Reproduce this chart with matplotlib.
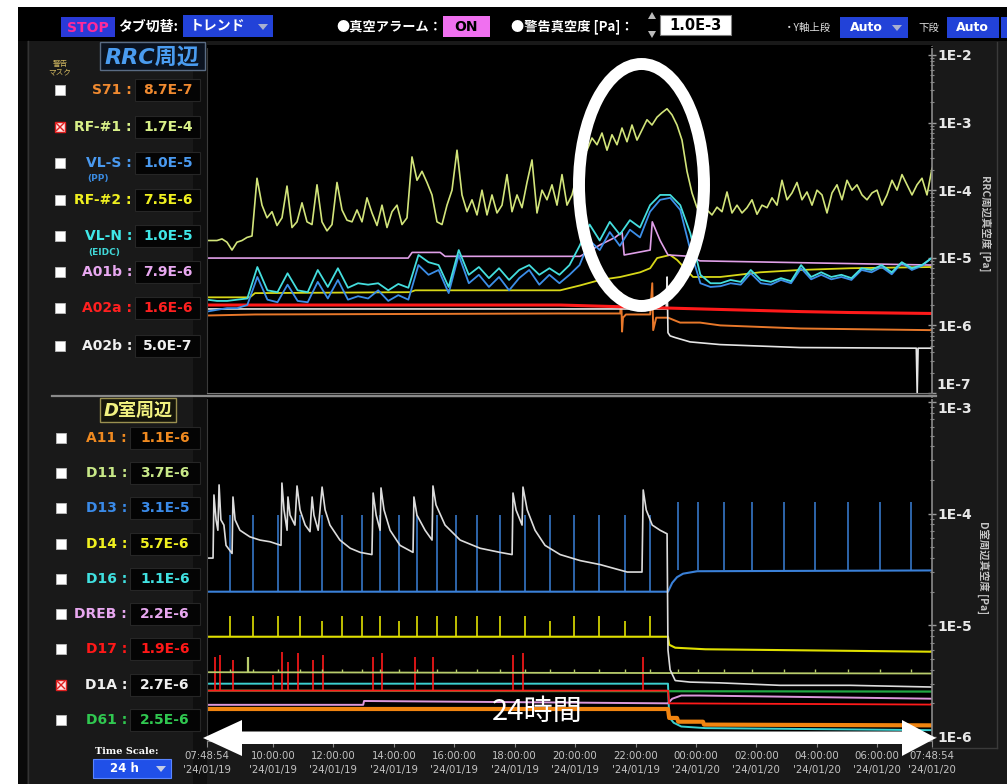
import matplotlib
matplotlib.use("Agg")
import matplotlib.pyplot as plt
import numpy as np
from matplotlib.patches import Rectangle, Ellipse, Polygon
from matplotlib.ticker import LogLocator, NullFormatter

plt.rcParams["font.family"] = ["DejaVu Sans", "Noto Sans CJK JP"]
JP = ["Noto Sans CJK JP", "DejaVu Sans"]

# ── Time axis (hours since 07:48:54 '24/01/19) ───────────────
tick_hours = [0, 2.185, 4.185, 6.185, 8.185, 10.185, 12.185,
              14.185, 16.185, 18.185, 20.185, 22.185, 24]
tick_labels = ["07:48:54\n'24/01/19", "10:00:00\n'24/01/19", "12:00:00\n'24/01/19",
               "14:00:00\n'24/01/19", "16:00:00\n'24/01/19", "18:00:00\n'24/01/19",
               "20:00:00\n'24/01/19", "22:00:00\n'24/01/19", "00:00:00\n'24/01/20",
               "02:00:00\n'24/01/20", "04:00:00\n'24/01/20", "06:00:00\n'24/01/20",
               "07:48:54\n'24/01/20"]
rrc_ticks = [1e-7, 1e-6, 1e-5, 1e-4, 1e-3, 1e-2]
rrc_tick_labels = ["1E-7", "1E-6", "1E-5", "1E-4", "1E-3", "1E-2"]
d_ticks = [1e-6, 1e-5, 1e-4, 1e-3]
d_tick_labels = ["1E-6", "1E-5", "1E-4", "1E-3"]

# ── Read-outs in the left panel ──────────────────────────────
rrc_names = ["S71", "RF-#1", "VL-S", "RF-#2", "VL-N", "A01b", "A02a", "A02b"]
rrc_values = ["8.7E-7", "1.7E-4", "1.0E-5", "7.5E-6", "1.0E-5", "7.9E-6", "1.6E-6", "5.0E-7"]
rrc_masked = [False, True, False, False, False, False, False, False]
d_names = ["A11", "D11", "D13", "D14", "D16", "DREB", "D17", "D1A", "D61"]
d_values = ["1.1E-6", "3.7E-6", "3.1E-5", "5.7E-6", "1.1E-6", "2.2E-6", "1.9E-6", "2.7E-6", "2.5E-6"]
d_masked = [False, False, False, False, False, False, False, True, False]

# ── RRC trends [Pa] ──────────────────────────────────────────
# RF-#1 logged on a regular grid (146 samples over 24 h)
rf1_v = [1.8e-5, 1.8e-5, 1.8e-5, 1.9e-5, 1.7e-5, 1.3e-5, 1.7e-5, 1.8e-5, 2.0e-5, 2.1e-5,
         1.5e-4, 6.0e-5, 3.9e-5, 4.8e-5, 3.0e-5, 3.9e-5, 1.15e-4, 2.8e-5, 3.4e-5, 6.5e-5,
         3.4e-5, 3.1e-5, 1.2e-4, 3.4e-5, 2.5e-5, 3.1e-5, 1.3e-4, 5.1e-5, 3.6e-5, 3.4e-5,
         5.1e-5, 3.4e-5, 7.7e-5, 4.6e-5, 3.0e-5, 6.0e-5, 2.8e-5, 4.8e-5, 6.0e-5, 3.1e-5,
         3.9e-5, 3.1e-4, 1.4e-4, 1.9e-4, 1.3e-4, 8.5e-5, 3.4e-5, 3.1e-5, 6.0e-5, 1.0e-4,
         3.9e-4, 8.5e-5, 4.8e-5, 7.2e-5, 4.3e-5, 1.0e-4, 4.3e-5, 8.5e-5, 4.6e-5, 6.0e-5,
         1.7e-4, 4.8e-5, 8.5e-5, 5.5e-5, 1.3e-4, 2.8e-4, 4.6e-5, 1.0e-4, 7.2e-5, 1.2e-4,
         6.0e-5, 1.7e-4, 6.0e-5, 8.5e-5, 1.7e-4, 4.2e-4, 3.9e-4, 5.9e-4, 4.7e-4, 7.0e-4,
         3.9e-4, 6.6e-4, 4.7e-4, 8.3e-4, 5.2e-4, 9.2e-4, 5.5e-4, 7.8e-4, 1.1e-3, 9.2e-4,
         1.2e-3, 1.4e-3, 1.6e-3, 1.3e-3, 9.2e-4, 5.5e-4, 1.9e-4, 9.1e-5, 5.5e-5, 4.8e-5,
         5.1e-5, 4.3e-5, 5.6e-5, 4.8e-5, 9.4e-5, 4.6e-5, 6.0e-5, 4.6e-5, 5.5e-5, 7.2e-5,
         4.4e-5, 6.0e-5, 5.5e-5, 7.7e-5, 6.0e-5, 1.4e-4, 7.2e-5, 9.1e-5, 1.3e-4, 7.2e-5,
         9.4e-5, 6.0e-5, 1.0e-4, 8.5e-5, 4.6e-5, 9.1e-5, 1.2e-4, 7.2e-5, 1.4e-4, 1.0e-4,
         1.2e-4, 8.5e-5, 7.2e-5, 9.1e-5, 1.0e-4, 6.0e-5, 8.5e-5, 1.4e-4, 1.0e-4, 1.7e-4,
         1.2e-4, 8.5e-5, 1.2e-4, 1.5e-4, 8.5e-5, 2.1e-4]
# VL-N / VL-S logged on a regular grid (73 samples over 24 h)
vln_v = [2.4e-6, 2.3e-6, 2.3e-6, 2.4e-6, 2.5e-6, 7.3e-6, 3.3e-6, 3.1e-6, 5.9e-6, 3.3e-6,
         3.1e-6, 6.6e-6, 3.7e-6, 7.0e-6, 3.6e-6, 4.2e-6, 4.0e-6, 4.2e-6, 3.3e-6, 4.1e-6,
         3.6e-6, 1.1e-5, 8.6e-6, 7.8e-6, 3.7e-6, 1.3e-5, 5.6e-6, 7.3e-6, 5.0e-6, 7.0e-6,
         4.7e-6, 6.6e-6, 7.8e-6, 5.6e-6, 7.0e-6, 5.6e-6, 7.8e-6, 1.5e-5, 3.1e-5, 1.8e-5,
         3.4e-5, 2.2e-5, 3.6e-5, 2.8e-5, 6.0e-5, 8.5e-5, 8.5e-5, 6.0e-5, 2.3e-5, 5.6e-6,
         4.2e-6, 4.2e-6, 4.7e-6, 4.4e-6, 6.6e-6, 4.7e-6, 4.4e-6, 5.0e-6, 4.5e-6, 7.8e-6,
         5.2e-6, 6.1e-6, 5.2e-6, 5.6e-6, 5.0e-6, 7.0e-6, 6.6e-6, 7.8e-6, 6.1e-6, 8.6e-6,
         7.0e-6, 7.8e-6, 1.0e-5]
vls_v = [1.6e-6, 1.7e-6, 1.8e-6, 1.8e-6, 2.0e-6, 5.2e-6, 2.4e-6, 2.2e-6, 4.0e-6, 2.3e-6,
         2.2e-6, 4.4e-6, 2.5e-6, 4.7e-6, 2.4e-6, 2.7e-6, 2.5e-6, 3.3e-6, 2.3e-6, 2.8e-6,
         2.4e-6, 7.8e-6, 5.6e-6, 6.6e-6, 3.0e-6, 1.1e-5, 4.2e-6, 5.6e-6, 3.7e-6, 5.2e-6,
         3.3e-6, 5.0e-6, 6.6e-6, 4.0e-6, 5.6e-6, 4.2e-6, 5.6e-6, 7.8e-6, 1.8e-5, 1.3e-5,
         2.4e-5, 1.5e-5, 2.6e-5, 2.0e-5, 4.8e-5, 7.2e-5, 7.7e-5, 5.1e-5, 1.3e-5, 4.2e-6,
         3.7e-6, 3.8e-6, 4.2e-6, 4.0e-6, 5.9e-6, 4.2e-6, 4.0e-6, 4.7e-6, 4.2e-6, 7.0e-6,
         4.8e-6, 5.6e-6, 4.8e-6, 5.2e-6, 4.7e-6, 6.6e-6, 6.1e-6, 7.3e-6, 5.7e-6, 8.4e-6,
         6.6e-6, 7.6e-6, 1.0e-5]
a01b_t = [0, 6.66, 6.79, 7.72, 7.88, 12.35, 13.01, 13.51, 13.74, 13.81, 14.67, 14.74,
          15.00, 15.26, 15.99, 16.32, 24.0]
a01b_v = [9.9e-6, 9.9e-6, 1.2e-5, 1.2e-5, 1.05e-5, 1.05e-5, 1.55e-5, 2.0e-5, 2.4e-5, 1.1e-5,
          1.3e-5, 3.4e-5, 1.8e-5, 1.1e-5, 1.05e-5, 9.0e-6, 7.8e-6]
rf2_t = [0, 1.42, 1.59, 6.72, 6.89, 11.69, 12.35, 13.01, 13.68, 14.34, 14.67, 14.90,
         15.33, 15.56, 16.09, 16.99, 18.31, 19.64, 21.29, 24.0]
rf2_v = [2.6e-6, 2.6e-6, 3.0e-6, 3.1e-6, 3.3e-6, 3.3e-6, 3.9e-6, 4.7e-6, 5.2e-6, 6.1e-6,
         7.0e-6, 9.9e-6, 1.1e-5, 9.3e-6, 5.2e-6, 5.2e-6, 6.1e-6, 6.6e-6, 7.0e-6, 7.3e-6]
a02a_t = [0, 6.39, 11.69, 15.33, 19.64, 21.29, 24.0]
a02a_v = [2.0e-6, 2.0e-6, 2.0e-6, 1.8e-6, 1.6e-6, 1.55e-6, 1.5e-6]
a02b_t = [0, 14.34, 15.20, 15.23, 15.26, 15.33, 15.50, 15.99, 16.99, 19.64, 23.48, 23.51,
          23.54, 24.0]
a02b_v = [1.75e-6, 1.75e-6, 1.75e-6, 5.2e-6, 7.8e-7, 7.0e-7, 6.6e-7, 5.7e-7, 5.2e-7, 4.7e-7,
          4.6e-7, 1.0e-7, 4.6e-7, 4.6e-7]
s71_t = [0, 1.59, 11.69, 13.68, 13.71, 13.74, 13.77, 13.87, 14.67, 14.74, 14.77, 14.87,
         15.26, 15.66, 16.32, 16.99, 19.64, 24.0]
s71_v = [1.4e-6, 1.45e-6, 1.5e-6, 1.5e-6, 3.0e-6, 8.1e-7, 1.3e-6, 1.45e-6, 1.45e-6, 4.2e-6,
         8.5e-7, 1.3e-6, 1.3e-6, 1.1e-6, 1.1e-6, 1.0e-6, 9.0e-7, 8.5e-7]

# ── D-room trends [Pa] ───────────────────────────────────────
d13_t = [0, 15.26, 15.40, 15.56, 15.76, 16.23, 24.0]
d13_v = [2.0e-5, 2.0e-5, 2.4e-5, 2.7e-5, 2.9e-5, 3.05e-5, 3.1e-5]
d13_spikes_before = [0.76, 1.52, 2.35, 3.08, 3.81, 4.47, 5.13, 5.73, 6.36, 6.95, 7.62,
                     8.25, 8.94, 9.70, 10.53, 11.36, 12.15, 12.98, 13.84, 14.67]
d13_spikes_after = [15.60, 16.26, 17.12, 18.05, 19.11, 20.13, 21.23, 22.28, 23.31]
d14_t = [0, 15.26, 15.30, 15.50, 16.50, 24.0]
d14_v = [7.9e-6, 7.9e-6, 6.7e-6, 6.3e-6, 6.1e-6, 5.8e-6]
d14_peaks = [1.2e-5, 1.2e-5, 1.2e-5, 1.2e-5, 1.1e-5, 1.2e-5, 1.2e-5, 1.2e-5, 1.1e-5, 1.2e-5,
             1.2e-5, 1.2e-5, 1.2e-5, 1.2e-5, 1.2e-5, 1.1e-5, 1.2e-5, 1.2e-5, 1.1e-5, 1.2e-5]
d11_t = [0, 24.0]
d11_v = [3.8e-6, 3.7e-6]
d11_big_spike_t = [1.36]
d11_big_spike_v = [5.2e-6]
d16_t = [0, 15.26, 15.30, 15.45, 15.70, 16.50, 24.0]
d16_v = [3.0e-6, 3.0e-6, 1.5e-6, 1.34e-6, 1.24e-6, 1.2e-6, 1.15e-6]
d61_t = [0, 24.0]
d61_v = [2.6e-6, 2.55e-6]
d17_t = [0, 15.26, 15.30, 24.0]
d17_v = [2.6e-6, 2.6e-6, 2.0e-6, 1.95e-6]
d17_spike_t = [0.26, 0.43, 0.86, 2.19, 2.48, 2.68, 3.01, 3.51, 3.84, 5.50, 5.79, 6.89,
               7.48, 10.13, 10.46, 14.44]
d17_spike_v = [5.2e-6, 5.4e-6, 4.9e-6, 3.6e-6, 5.8e-6, 4.7e-6, 5.7e-6, 4.9e-6, 5.4e-6,
               5.2e-6, 5.7e-6, 5.2e-6, 5.2e-6, 5.4e-6, 5.7e-6, 5.2e-6]
dreb_t = [0, 5.17, 5.20, 15.26, 15.40, 15.70, 16.30, 24.0]
dreb_v = [1.94e-6, 1.94e-6, 2.1e-6, 2.0e-6, 2.2e-6, 2.35e-6, 2.35e-6, 2.2e-6]
a11_t = [0, 15.26, 15.30, 15.56, 15.60, 16.42, 16.45, 24.0]
a11_v = [1.78e-6, 1.78e-6, 1.48e-6, 1.48e-6, 1.37e-6, 1.37e-6, 1.29e-6, 1.27e-6]
d1a_t = [0, 0.20, 0.23, 0.30, 0.36, 0.40, 0.46, 0.56, 0.63, 0.83, 0.86, 0.93, 1.09, 1.42,
         1.75, 2.09, 2.45, 2.48, 2.55, 2.65, 2.68, 2.75, 2.91, 2.98, 3.08, 3.25, 3.41, 3.48,
         3.54, 3.68, 3.81, 3.91, 4.07, 4.40, 4.74, 5.07, 5.46, 5.50, 5.60, 5.73, 5.76, 5.86,
         6.06, 6.39, 6.82, 6.85, 6.95, 7.22, 7.45, 7.48, 7.58, 7.88, 8.38, 9.04, 9.70, 10.10,
         10.13, 10.23, 10.43, 10.46, 10.60, 10.86, 11.19, 11.69, 12.35, 13.01, 13.91, 14.40,
         14.44, 14.54, 14.74, 15.00, 15.23, 15.26, 15.33, 15.50, 15.99, 16.99, 18.97, 21.29,
         24.0]
d1a_v = [4.0e-5, 4.0e-5, 1.47e-4, 8.8e-5, 7.1e-5, 1.81e-4, 8.8e-5, 7.9e-5, 5.2e-5, 4.4e-5,
         1.41e-4, 8.8e-5, 7.1e-5, 6.2e-5, 5.8e-5, 5.6e-5, 5.2e-5, 1.88e-4, 1.08e-4, 7.1e-5,
         1.41e-4, 9.7e-5, 7.9e-5, 1.77e-4, 1.08e-4, 7.9e-5, 6.9e-5, 1.41e-4, 9.7e-5, 7.1e-5,
         1.73e-4, 1.08e-4, 7.9e-5, 5.8e-5, 4.9e-5, 4.5e-5, 4.3e-5, 1.53e-4, 9.7e-5, 7.1e-5,
         1.70e-4, 1.08e-4, 7.1e-5, 5.2e-5, 4.5e-5, 1.41e-4, 9.7e-5, 7.1e-5, 5.8e-5, 1.77e-4,
         1.20e-4, 7.9e-5, 5.8e-5, 4.9e-5, 4.5e-5, 4.3e-5, 1.53e-4, 1.08e-4, 7.9e-5, 1.73e-4,
         1.08e-4, 7.1e-5, 5.2e-5, 4.3e-5, 3.8e-5, 3.5e-5, 3.0e-5, 3.0e-5, 1.63e-4, 1.08e-4,
         7.9e-5, 7.1e-5, 6.6e-5, 6.0e-6, 4.0e-6, 3.2e-6, 3.1e-6, 3.05e-6, 2.9e-6, 2.9e-6,
         2.8e-6]

# ── Styles ───────────────────────────────────────────────────
W, H = 1007, 784
C_S71, C_RF1, C_VLS, C_RF2 = "#e8782a", "#d2e47a", "#3c8ee8", "#d8d818"
C_VLN, C_A01B, C_A02A, C_A02B = "#44dede", "#e0a0e8", "#ff1a1a", "#e6e6e6"
C_A11, C_D11, C_D13, C_D14 = "#f08410", "#b8cc6c", "#3a80d8", "#e0e000"
C_D16, C_DREB, C_D17, C_D1A, C_D61 = "#3cd0d0", "#dc98dc", "#ff1a1a", "#dcdcdc", "#22a844"

rrc_text_colors = ["#f08a30", "#d8f088", "#4a9af0", "#f0f020", "#40e8e8",
                   "#e8a8f0", "#ff2020", "#f0f0f0"]
rrc_rows_y = [90, 127, 163, 200, 236, 272, 308, 346]
d_text_colors = ["#f08a20", "#c8e888", "#3a8ae8", "#f0f020", "#40e0e0",
                 "#e8a8f0", "#ff1818", "#f0f0f0", "#30c850"]
d_rows_y = [438, 473, 508, 544, 579, 614, 649, 685, 720]

fig = plt.figure(figsize=(W / 100, H / 100), dpi=100)
fig.patch.set_facecolor("white")


def px(x0, y0, x1, y1):
    return [x0 / W, 1 - y1 / H, (x1 - x0) / W, (y1 - y0) / H]


bg = fig.add_axes([0, 0, 1, 1], zorder=0)
bg.set_xlim(0, W)
bg.set_ylim(H, 0)
bg.axis("off")


def R(ax, x0, y0, x1, y1, fc, ec="none", lw=0.0, z=1):
    ax.add_patch(Rectangle((x0, y0), x1 - x0, y1 - y0, fc=fc, ec=ec, lw=lw, zorder=z))


def T(ax, x, y, s, sz=10, c="white", ha="center", va="center", wt="normal", **kw):
    ax.text(x, y, s, fontsize=sz, color=c, ha=ha, va=va, fontweight=wt, **kw)


def tri_down(ax, cx, cy, c="#a8b0d0"):
    ax.add_patch(Polygon([(cx - 5, cy - 3), (cx + 5, cy - 3), (cx, cy + 3)], fc=c, ec="none", zorder=3))


# ── UI background ────────────────────────────────────────────
R(bg, 18, 7, W, H, "#191919")
R(bg, 18, 7, W, 41, "#000000")
R(bg, 18, 41, 27, H, "#0a0a0a")
bg.plot([28, 28], [41, H], color="#333333", lw=1)
R(bg, 193, 41, 207, H, "#0f0f0f")
bg.plot([997, 997], [42, 748], color="#3a3a3a", lw=1)
bg.plot([932, 997], [748, 748], color="#3a3a3a", lw=1)
bg.plot([52, 936], [395.5, 395.5], color="#8a8a8a", lw=1.6)
R(bg, 207, 45, 932, 393, "#000000")
R(bg, 207, 398, 932, 741, "#000000")

# ── Top bar ──────────────────────────────────────────────────
R(bg, 61, 17, 115, 37, "#2a3ad8", z=2)
T(bg, 88, 27.5, "STOP", sz=10, c="#ff2a9a", wt="bold", zorder=3)
T(bg, 118, 27, "タブ切替:", sz=10, ha="left", wt="bold", family=JP, zorder=3)
R(bg, 183, 15, 273, 37, "#2242d8", z=2)
T(bg, 218, 26, "トレンド", sz=10, wt="bold", family=JP, zorder=3)
tri_down(bg, 263, 27)
T(bg, 336, 27, "●真空アラーム：", sz=9.5, ha="left", wt="bold", family=JP, zorder=3)
R(bg, 443, 16, 490, 37, "#f070f0", z=2)
T(bg, 466, 27, "ON", sz=10, c="black", wt="bold", zorder=3)
T(bg, 511, 27, "●警告真空度 [Pa]：", sz=9.5, ha="left", wt="bold", family=JP, zorder=3)
bg.add_patch(Polygon([(648, 19), (656, 19), (652, 12)], fc="#bcbcbc", ec="none", zorder=3))
bg.add_patch(Polygon([(648, 31), (656, 31), (652, 38)], fc="#bcbcbc", ec="none", zorder=3))
R(bg, 660, 15, 731, 35, "white", ec="#808080", lw=0.8, z=2)
T(bg, 695.5, 25.5, "1.0E-3", sz=10.5, c="black", wt="bold", zorder=3)
T(bg, 784, 28, "・Y軸上段", sz=7.5, c="#dddddd", ha="left", family=JP, zorder=3)
R(bg, 840, 17, 908, 38, "#2242d8", z=2)
T(bg, 866, 27.5, "Auto", sz=9, wt="bold", zorder=3)
tri_down(bg, 897, 28)
T(bg, 918, 28, "下段", sz=7.5, c="#dddddd", ha="left", family=JP, zorder=3)
R(bg, 947, 17, 999, 38, "#2242d8", z=2)
T(bg, 972, 27.5, "Auto", sz=9, wt="bold", zorder=3)
R(bg, 1001, 17, W, 38, "#2242d8", z=2)

# ── Left panel: group headers ────────────────────────────────
T(bg, 60, 68, "警告\nマスク", sz=5.5, c="#d2b860", family=JP, linespacing=1.0, zorder=3)
R(bg, 100, 42, 205, 70, "#0b1320", ec="#5a6c84", lw=1, z=2)
T(bg, 152, 57, "RRC周辺", sz=16, c="#4a9cf0", wt="bold", style="italic", zorder=3)
R(bg, 100, 398, 176, 422, "#15150b", ec="#9a9050", lw=1, z=2)
T(bg, 138, 410.5, "D室周辺", sz=13, c="#f0f080", wt="bold", style="italic", zorder=3)


def checkbox(x, y, masked):
    if masked:
        R(bg, x - 5, y - 5, x + 5, y + 5, "#ffe4e4", ec="#e02020", lw=1, z=3)
        bg.plot([x - 3.5, x + 3.5], [y - 3.5, y + 3.5], color="#e02020", lw=1, zorder=4)
        bg.plot([x - 3.5, x + 3.5], [y + 3.5, y - 3.5], color="#e02020", lw=1, zorder=4)
    else:
        R(bg, x - 5, y - 5, x + 5, y + 5, "white", ec="#bbbbbb", lw=0.6, z=3)


for name, val, col, yy, m in zip(rrc_names, rrc_values, rrc_text_colors, rrc_rows_y, rrc_masked):
    checkbox(60, yy, m)
    T(bg, 132, yy, name + " :", sz=10, c=col, wt="bold", ha="right", zorder=3)
    R(bg, 135, yy - 11, 200, yy + 11, "#040404", ec="#262626", lw=0.8, z=2)
    T(bg, 168, yy, val, sz=10, c=col, wt="bold", zorder=3)
T(bg, 98, 178, "(PP)", sz=6.5, c="#3a8ae0", wt="bold", zorder=3)
T(bg, 104, 252, "(EIDC)", sz=6.5, c="#40d8d8", wt="bold", zorder=3)

for name, val, col, yy, m in zip(d_names, d_values, d_text_colors, d_rows_y, d_masked):
    checkbox(61, yy, m)
    T(bg, 127, yy, name + " :", sz=10, c=col, wt="bold", ha="right", zorder=3)
    R(bg, 130, yy - 11, 200, yy + 11, "#040404", ec="#262626", lw=0.8, z=2)
    T(bg, 165, yy, val, sz=10, c=col, wt="bold", zorder=3)

T(bg, 127, 752, "Time Scale:", sz=7, wt="bold", family="DejaVu Serif", zorder=3)
R(bg, 93, 759, 171, 778, "#2050e8", ec="#5a86ff", lw=0.8, z=2)
T(bg, 124, 768.5, "24 h", sz=8.5, wt="bold", zorder=3)
tri_down(bg, 161, 769, c="#c4cce4")

T(bg, 985, 223, "RRC周辺真空度 [Pa]", sz=7.5, c="#c4c4c4", wt="bold", rotation=-90, family=JP)
T(bg, 983, 568, "D室周辺真空度 [Pa]", sz=7.5, c="#c4c4c4", wt="bold", rotation=-90, family=JP)


# ── Trend axes ───────────────────────────────────────────────
def style_axes(ax, ylim, ticks, labels):
    ax.set_facecolor("black")
    ax.set_yscale("log")
    ax.set_xlim(0, 24)
    ax.set_ylim(*ylim)
    ax.yaxis.tick_right()
    ax.set_yticks(ticks)
    ax.set_yticklabels(labels, fontweight="bold")
    ax.yaxis.set_minor_locator(LogLocator(base=10, subs=np.arange(2, 10)))
    ax.yaxis.set_minor_formatter(NullFormatter())
    ax.tick_params(axis="y", which="major", colors="#9a9a9a", labelcolor="#e8e8e8",
                   length=6, width=1, direction="inout", labelsize=10, pad=1)
    ax.tick_params(axis="y", which="minor", colors="#8a8a8a", length=3.5,
                   width=0.8, direction="inout")
    for side, c in (("left", "#3a3a3a"), ("top", "#000000"),
                    ("bottom", "#7a7a7a"), ("right", "#8a8a8a")):
        ax.spines[side].set_color(c)
    ax.spines["right"].set_linewidth(1.2)


ax1 = fig.add_axes(px(207, 47, 932, 393), zorder=2)
# bottom label "1E-7" sits just above the panel edge, drawn separately below
style_axes(ax1, (1e-7, 1.31e-2), rrc_ticks, [""] + rrc_tick_labels[1:])
ax1.tick_params(axis="x", bottom=False, labelbottom=False)
T(bg, 936, 392, rrc_tick_labels[0], sz=10, c="#e8e8e8", wt="bold", ha="left", va="bottom", zorder=3)

t146 = np.linspace(0, 24, len(rf1_v))
t73 = np.linspace(0, 24, len(vln_v))
ax1.plot(s71_t, s71_v, color=C_S71, lw=1.4)
ax1.plot(a02b_t, a02b_v, color=C_A02B, lw=1.2)
ax1.plot(a02a_t, a02a_v, color=C_A02A, lw=2.2)
ax1.plot(rf2_t, rf2_v, color=C_RF2, lw=1.3)
ax1.plot(a01b_t, a01b_v, color=C_A01B, lw=1.2)
ax1.plot(t73, vls_v, color=C_VLS, lw=1.3)
ax1.plot(t73, vln_v, color=C_VLN, lw=1.3)
ax1.plot(t146, rf1_v, color=C_RF1, lw=1.2)

ax2 = fig.add_axes(px(207, 398, 932, 741), zorder=2)
style_axes(ax2, (9.2e-7, 1.086e-3), d_ticks, d_tick_labels)
for lbl in ax2.get_yticklabels(which="major"):
    if lbl.get_text() == "1E-3":
        lbl.set_verticalalignment("top")
ax2.set_xticks(tick_hours)
ax2.set_xticklabels(tick_labels, fontsize=7.3, color="#c4c4c4", linespacing=1.5)
ax2.tick_params(axis="x", colors="#8a8a8a", labelcolor="#c4c4c4", length=4, pad=3)

ax2.plot(d16_t, d16_v, color=C_D16, lw=1.4)
ax2.plot(a11_t, a11_v, color=C_A11, lw=3.0)
ax2.plot(dreb_t, dreb_v, color=C_DREB, lw=1.4)
ax2.plot(d61_t, d61_v, color=C_D61, lw=1.6)
ax2.plot(d17_t, d17_v, color=C_D17, lw=1.3)
ax2.vlines(d17_spike_t, d17_v[0], d17_spike_v, color=C_D17, lw=1.2)
ax2.plot(d11_t, d11_v, color=C_D11, lw=1.3)
ax2.vlines(d13_spikes_before + d13_spikes_after, d11_v[0], 4.1e-6, color=C_D11, lw=1)
ax2.vlines(d11_big_spike_t, d11_v[0], d11_big_spike_v, color=C_D11, lw=1.6)
ax2.plot(d14_t, d14_v, color=C_D14, lw=1.5)
ax2.vlines(d13_spikes_before, d14_v[0], d14_peaks, color=C_D14, lw=1.2)
ax2.plot(d13_t, d13_v, color=C_D13, lw=1.5)
ax2.vlines(d13_spikes_before, d13_v[0], 9.7e-5, color=C_D13, lw=1.1)
ax2.vlines(d13_spikes_after, d13_v[-1], 1.27e-4, color=C_D13, lw=1.1)
ax2.plot(d1a_t, d1a_v, color=C_D1A, lw=1.2)

# ── Annotations drawn over the screenshot ────────────────────
fg = fig.add_axes([0, 0, 1, 1], zorder=5)
fg.set_xlim(0, W)
fg.set_ylim(H, 0)
fg.axis("off")
fg.add_patch(Ellipse((641.5, 185), 125, 242, fill=False, ec="white", lw=8.6))
fg.add_patch(Polygon([(203, 738), (242, 720), (242, 731.5), (902, 731.5), (902, 720),
                      (936, 738), (902, 756), (902, 744), (242, 744), (242, 756)],
                     fc="white", ec="none"))
T(fg, 537, 712, "24時間", sz=21, family=JP)

fig.savefig("out.png", dpi=100, facecolor=fig.get_facecolor())
